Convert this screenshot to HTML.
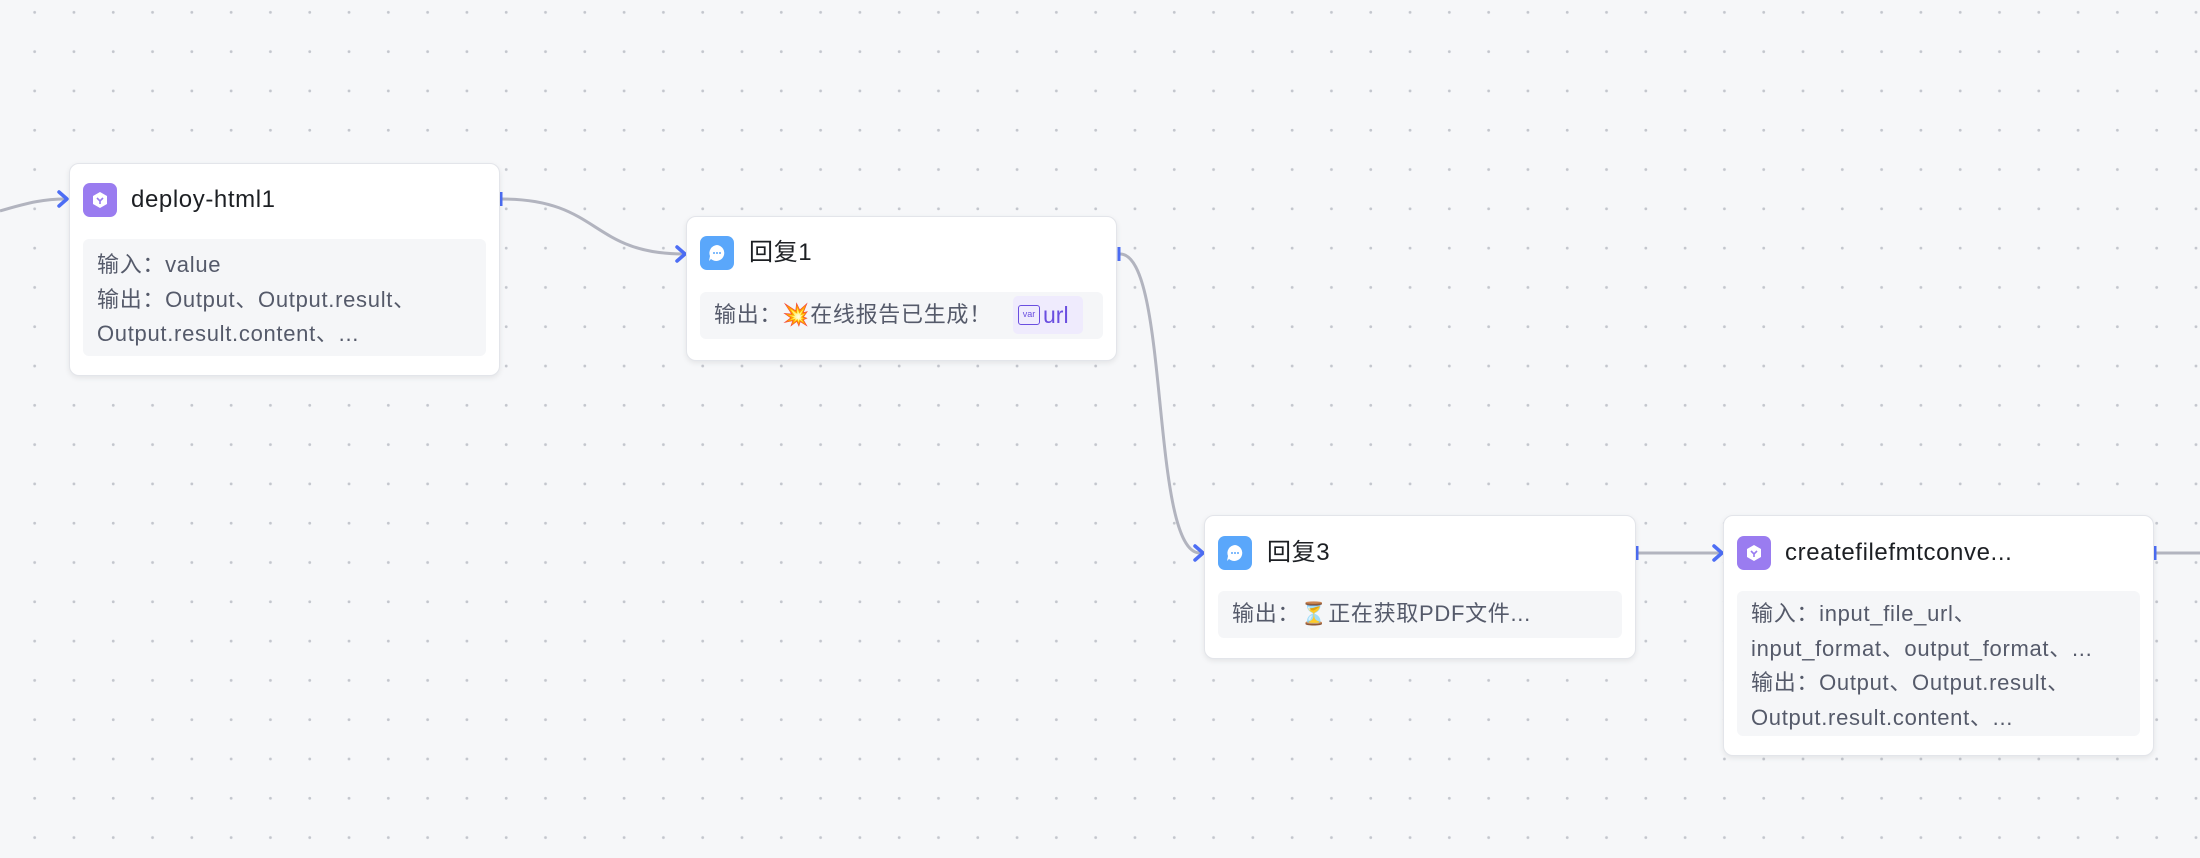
<!DOCTYPE html>
<html><head><meta charset="utf-8"><style>
*{box-sizing:border-box;margin:0;padding:0}
body{width:2200px;height:858px;overflow:hidden;background:#f6f7f9;font-family:"Liberation Sans","Noto Sans CJK SC",sans-serif;position:relative;
background-image:radial-gradient(circle,#c3c6cd 1.3px,transparent 1.6px);background-size:39.3px 39.3px;background-position:15px 32px}
.node{position:absolute;background:#fff;border:1px solid #e3e5ea;border-radius:10px;box-shadow:0 2px 6px rgba(0,0,0,.08)}
.icon{position:absolute;width:34px;height:34px;border-radius:7px;display:flex;align-items:center;justify-content:center}
.pur{background:#9a7cf0}.blu{background:#5aa7fb}
.title{position:absolute;font-size:24px;letter-spacing:0.6px;color:#1c1f23;line-height:34px;white-space:nowrap}
.body{position:absolute;background:#f5f6f8;border-radius:6px;padding:9px 14px;font-size:22px;letter-spacing:0.7px;color:#555a6a;line-height:34.5px;white-space:nowrap}
svg.e{position:absolute;left:0;top:0}
</style></head><body>
<svg class="e" width="2200" height="858">
<g fill="none" stroke="#b2b4bf" stroke-width="3">
<path d="M0 211 C30 202,45 199,66 199"/>
<path d="M502 199 C600 199,590 254,684 254"/>
<path d="M1120 254 C1170 254,1150 553,1200 553"/>
<path d="M1638 553 L1720 553"/>
<path d="M2156 553 L2200 553"/>
</g>
<g fill="none" stroke="#4d6ef5" stroke-width="3.5" stroke-linecap="round" stroke-linejoin="round">
<path d="M59 192 L67 199 L59 206"/>
<path d="M677 247 L685 254 L677 261"/>
<path d="M1195 546 L1203 553 L1195 560"/>
<path d="M1714 546 L1722 553 L1714 560"/>
</g>
<g stroke="#4d6ef5" stroke-width="3">
<path d="M501 192 V206"/><path d="M1119 247 V261"/><path d="M1637 546 V560"/><path d="M2155 546 V560"/>
</g>
</svg>

<div class="node" style="left:69px;top:163px;width:431px;height:213px">
<div class="icon pur" style="left:13px;top:19px"><svg width="20" height="20"><path d="M10 2 L17 6 V14 L10 18 L3 14 V6Z" fill="#fff"/><path d="M7 8 L10 11 L13 8 M10 11 V14" stroke="#9a7cf0" stroke-width="1.6" fill="none"/></svg></div>
<div class="title" style="left:61px;top:19px">deploy-html1</div>
<div class="body" style="left:13px;top:75px;width:403px;height:117px">输入：value<br>输出：Output、Output.result、<br>Output.result.content、...</div>
</div>

<div class="node" style="left:686px;top:216px;width:431px;height:145px">
<div class="icon blu" style="left:13px;top:19px"><svg width="22" height="22"><path d="M11 3 A8 8 0 1 1 5 17 L3 19 L4 14 A8 8 0 0 1 11 3Z" fill="#fff"/><circle cx="8" cy="11" r="1" fill="#5aa7fb"/><circle cx="11" cy="11" r="1" fill="#5aa7fb"/><circle cx="14" cy="11" r="1" fill="#5aa7fb"/></svg></div>
<div class="title" style="left:62px;top:19px">回复1</div>
<div class="body" style="left:13px;top:75px;width:403px;height:47px;padding-top:6px">输出：💥在线报告已生成！<span style="position:absolute;left:313px;top:4px;width:70px;height:38px;background:#efebfd;border-radius:5px;color:#6a4ee0;padding-left:30px;line-height:38px;font-size:23px;letter-spacing:0">url<span style="position:absolute;left:5px;top:9px;width:22px;height:20px;border:1.5px solid #6a4ee0;border-radius:3px;font-size:9px;line-height:17px;text-align:center">var</span></span></div>
</div>

<div class="node" style="left:1204px;top:515px;width:432px;height:144px">
<div class="icon blu" style="left:13px;top:20px"><svg width="22" height="22"><path d="M11 3 A8 8 0 1 1 5 17 L3 19 L4 14 A8 8 0 0 1 11 3Z" fill="#fff"/><circle cx="8" cy="11" r="1" fill="#5aa7fb"/><circle cx="11" cy="11" r="1" fill="#5aa7fb"/><circle cx="14" cy="11" r="1" fill="#5aa7fb"/></svg></div>
<div class="title" style="left:62px;top:20px">回复3</div>
<div class="body" style="left:13px;top:75px;width:404px;height:47px;padding-top:6px">输出：⏳正在获取PDF文件...</div>
</div>

<div class="node" style="left:1723px;top:515px;width:431px;height:241px">
<div class="icon pur" style="left:13px;top:20px"><svg width="20" height="20"><path d="M10 2 L17 6 V14 L10 18 L3 14 V6Z" fill="#fff"/><path d="M7 8 L10 11 L13 8 M10 11 V14" stroke="#9a7cf0" stroke-width="1.6" fill="none"/></svg></div>
<div class="title" style="left:61px;top:20px">createfilefmtconve...</div>
<div class="body" style="left:13px;top:75px;width:403px;height:145px;padding-top:6px">输入：input_file_url、<br>input_format、output_format、...<br>输出：Output、Output.result、<br>Output.result.content、...</div>
</div>
</body></html>
